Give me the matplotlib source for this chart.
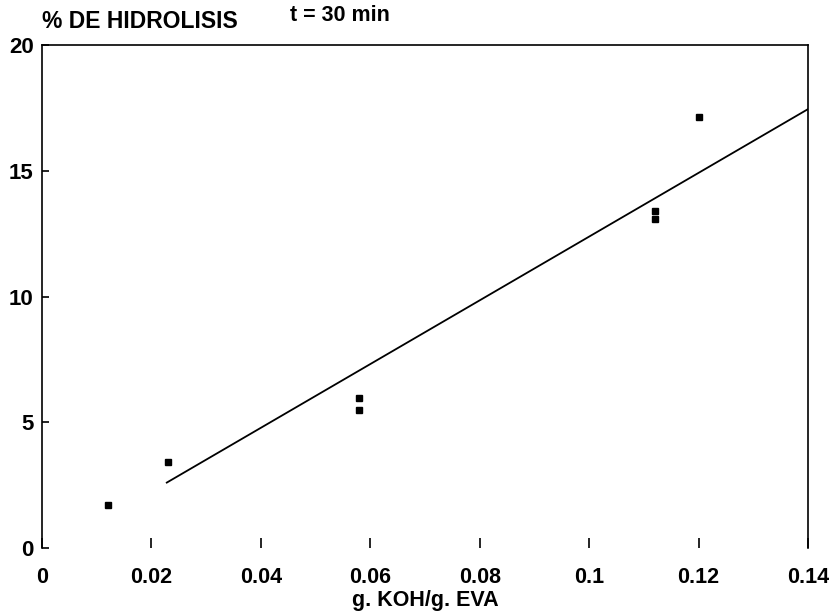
import matplotlib.pyplot as plt

plt.rcParams['font.family'] = ['Liberation Sans', 'DejaVu Sans']
plt.rcParams['font.weight'] = 'bold'

# measured points (g KOH / g EVA vs % hydrolysis)
x_pts = [0.012, 0.023, 0.058, 0.058, 0.112, 0.112, 0.120]
y_pts = [1.7, 3.4, 5.95, 5.5, 13.4, 13.1, 17.15]

# fitted line end points
x_fit = [0.0228, 0.14]
y_fit = [2.6, 17.45]

x_ticks = [0, 0.02, 0.04, 0.06, 0.08, 0.1, 0.12, 0.14]
x_labels = ['0', '0.02', '0.04', '0.06', '0.08', '0.1', '0.12', '0.14']
y_ticks = [0, 5, 10, 15, 20]

fig = plt.figure(figsize=(8.34, 6.14), dpi=100)
ax = fig.add_axes([0.0504, 0.1075, 0.9184, 0.8192])

ax.plot(x_fit, y_fit, color='black', linewidth=1.3)
ax.plot(x_pts, y_pts, 's', color='black', markersize=4.5)

ax.set_xlim(0, 0.14)
ax.set_ylim(0, 20)
ax.set_xticks(x_ticks)
ax.set_xticklabels(x_labels)
ax.set_yticks(y_ticks)

ax.spines['bottom'].set_visible(False)
for s in ['left', 'top', 'right']:
    ax.spines[s].set_linewidth(1.2)

ax.tick_params(axis='x', direction='in', length=7, width=1.2, labelsize=15.5, pad=14)
ax.tick_params(axis='y', direction='in', length=5, width=1.2, labelsize=16, pad=6)

ax.set_xlabel('g. KOH/g. EVA', fontsize=15.5, fontweight='bold', labelpad=1)
fig.text(0.0504, 0.965, '% DE HIDROLISIS', fontsize=16.5, fontweight='bold', va='center', ha='left')
fig.text(0.408, 0.975, 't = 30 min', fontsize=15.5, fontweight='bold', va='center', ha='center')

fig.savefig('out.png', dpi=100)
